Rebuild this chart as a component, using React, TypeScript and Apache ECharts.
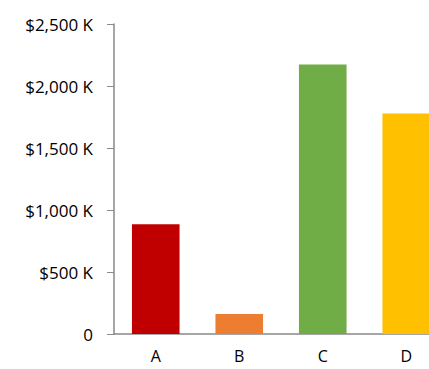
import React, { useEffect, useRef } from "react";
import * as echarts from "echarts";

const categories = ["A", "B", "C", "D"];
const values = [886, 161, 2174, 1779];
const barColors = ["#C00000", "#ED7D31", "#70AD47", "#FFC000"];
const yTicks = { min: 0, max: 2500, interval: 500 };

function fmt(v: number): string {
  if (v === 0) return "0";
  return "$" + v.toLocaleString("en-US") + " K";
}

export default function App() {
  const ref = useRef<HTMLDivElement>(null);
  useEffect(() => {
    if (!ref.current) return;
    const chart = echarts.init(ref.current, undefined, { renderer: "svg" });
    chart.setOption({
      animation: false,
      grid: { left: 114, top: 24, bottom: 35, right: 0, containLabel: false },
      xAxis: {
        type: "category",
        data: categories,
        axisLine: { lineStyle: { color: "#898989", width: 1.5 } },
        axisTick: { show: false },
        axisLabel: {
          color: "#000",
          fontFamily: "Open Sans",
          fontSize: 16,
          lineHeight: 16,
          margin: 14,
        },
      },
      yAxis: {
        type: "value",
        min: yTicks.min,
        max: yTicks.max,
        interval: yTicks.interval,
        splitLine: { show: false },
        axisLine: { show: true, lineStyle: { color: "#898989", width: 1.5 } },
        axisTick: { show: true, length: 7, lineStyle: { color: "#898989" } },
        axisLabel: {
          color: "#000",
          fontFamily: "Open Sans",
          fontSize: 17,
          margin: 21,
          formatter: (v: number) => fmt(v),
        },
      },
      series: [
        {
          type: "bar",
          barWidth: "57%",
          data: values.map((v, i) => ({ value: v, itemStyle: { color: barColors[i] } })),
        },
      ],
    });
    return () => chart.dispose();
  }, []);
  return (
    <div style={{ position: "absolute", left: 0, top: 0, width: 429, height: 369, overflow: "hidden" }}>
      <div ref={ref} style={{ width: 448, height: 369 }} />
    </div>
  );
}
